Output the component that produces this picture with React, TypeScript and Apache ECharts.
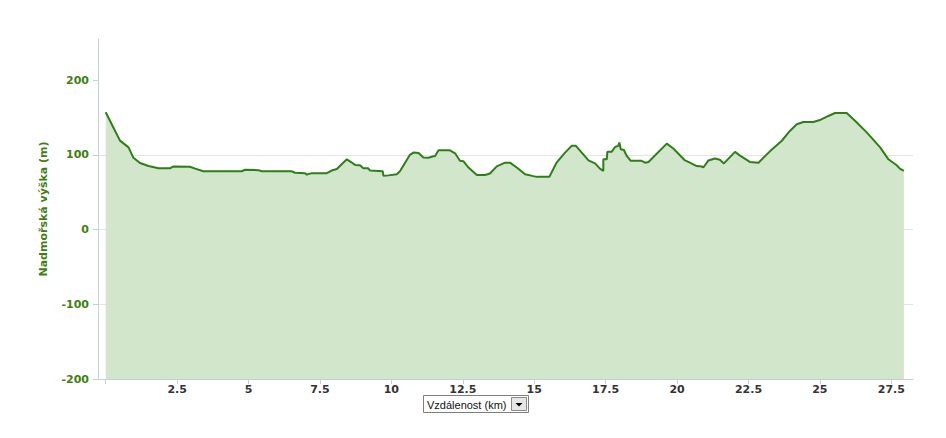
import React, { useEffect, useRef } from "react";
import * as echarts from "echarts";

const distanceKm = [
  0, 0.25, 0.5, 0.8, 0.97, 1.2, 1.5, 1.85, 2.25, 2.37, 2.95, 3.13, 3.42, 4.76, 4.88, 5.35, 5.46, 6.5, 6.63, 6.98,
  7.04, 7.21, 7.74, 7.91, 8.09, 8.44, 8.6, 8.73, 8.9, 9.02, 9.19, 9.25, 9.7, 9.72, 9.9, 10.19, 10.3, 10.65, 10.77,
  10.95, 11.12, 11.3, 11.47, 11.53, 11.65, 12.05, 12.23, 12.4, 12.52, 12.7, 12.99, 13.28, 13.45, 13.69, 13.98,
  14.15, 14.39, 14.68, 14.97, 15.09, 15.53, 15.79, 16.08, 16.31, 16.46, 16.9, 17.13, 17.3, 17.42, 17.42, 17.54,
  17.56, 17.71, 17.83, 17.94, 17.98, 18.03, 18.14, 18.24, 18.38, 18.76, 18.88, 19.0, 19.64, 19.87, 20.28, 20.45,
  20.69, 20.86, 20.92, 21.1, 21.33, 21.5, 21.64, 22.03, 22.26, 22.55, 22.85, 23.26, 23.66, 23.95, 24.19, 24.42,
  24.77, 25.0, 25.3, 25.53, 25.94, 26.23, 26.64, 27.11, 27.4, 27.69, 27.8, 27.94,
];

const elevationM = [
  157, 138, 119, 110, 96, 89, 85, 82, 82, 84.5, 84, 81.5, 78, 78, 80, 79.5, 78, 78, 76, 75.5,
  73.5, 75.5, 75.5, 79, 81, 94, 90, 86.5, 86, 82, 82, 79, 78, 72, 72.5, 74, 78, 100, 103,
  102.5, 96.5, 96, 98, 98.5, 106, 106, 102, 92, 91.5, 83, 73, 73, 75, 84.5, 89.5,
  89.5, 83, 74, 71.5, 70.5, 70.5, 90, 103, 112, 112, 92.5, 88.5, 81.5, 78.5, 94, 94,
  104, 104, 110.5, 112, 116.5, 107.5, 106.5, 98.5, 92, 92, 89.5, 90.5, 115, 108.5, 92.5, 89.5,
  85, 84.5, 83, 92.5, 95, 93.5, 88.5, 104, 97.5, 90.5, 89.5, 105, 118.5, 132, 141, 144,
  144, 146.5, 152, 156, 156, 145.5, 130, 110, 94, 86, 81.5, 78.5,
];

const xTickValues = [0, 2.5, 5, 7.5, 10, 12.5, 15, 17.5, 20, 22.5, 25, 27.5];
const xLabelValues = [2.5, 5, 7.5, 10, 12.5, 15, 17.5, 20, 22.5, 25, 27.5];
const yTickValues = [-200, -100, 0, 100, 200];

const yAxisTitle = "Nadmořská výška (m)";
const xSelectorText = "Vzdálenost (km)";

const GREEN = "#2e7f17";
const AXIS = "#c0d0e0";

export default function App() {
  const ref = useRef<HTMLDivElement>(null);

  useEffect(() => {
    document.body.style.margin = "0";
    const chart = echarts.init(ref.current!, undefined, { renderer: "svg" });
    const data = distanceKm.map((d, i) => [d, elevationM[i]]);
    chart.setOption({
      animation: false,
      backgroundColor: "#ffffff",
      grid: { left: 98, right: 33, top: 39, bottom: 59, containLabel: false },
      xAxis: {
        type: "value",
        min: -0.27,
        max: 28.26,
        axisLine: { show: true, onZero: false, lineStyle: { color: AXIS, width: 1 } },
        axisTick: { show: true, length: 5, lineStyle: { color: AXIS }, customValues: xTickValues },
        axisLabel: {
          customValues: xLabelValues,
          margin: 5,
          color: "#333333",
          fontFamily: "DejaVu Sans",
          fontWeight: "bold",
          fontSize: 11,
        },
        splitLine: { show: false },
      },
      yAxis: {
        type: "value",
        min: -200,
        max: 255,
        interval: 100,
        name: yAxisTitle,
        nameLocation: "middle",
        nameGap: 49,
        nameRotate: 90,
        nameTextStyle: {
          color: "#3f7f12",
          fontFamily: "DejaVu Sans",
          fontWeight: "bold",
          fontSize: 11,
        },
        axisLine: { show: true, onZero: false, lineStyle: { color: AXIS, width: 1 } },
        axisTick: { show: true, length: 5, lineStyle: { color: AXIS }, customValues: yTickValues },
        axisLabel: {
          customValues: yTickValues,
          margin: 9,
          color: "#3f7f12",
          fontFamily: "DejaVu Sans",
          fontWeight: "bold",
          fontSize: 11,
        },
        splitLine: {
          show: true,
          showMinLine: false,
          showMaxLine: false,
          lineStyle: { color: "#e4e4e4", width: 1 },
        },
      },
      series: [
        {
          type: "line",
          data,
          showSymbol: false,
          symbol: "none",
          lineStyle: { color: GREEN, width: 2 },
          itemStyle: { color: GREEN },
          areaStyle: { color: "#d2e6cc", opacity: 1, origin: "start" },
        },
      ],
      graphic: [
        {
          type: "group",
          left: 423,
          top: 395,
          children: [
            {
              type: "rect",
              shape: { x: 0.5, y: 0.5, width: 105, height: 17 },
              style: { fill: "#ffffff", stroke: "#7f7f7f", lineWidth: 1 },
            },
            {
              type: "text",
              x: 4,
              y: 9.5,
              style: {
                text: xSelectorText,
                fill: "#111111",
                font: "11px 'Liberation Sans', Arial, sans-serif",
                verticalAlign: "middle",
              },
            },
            {
              type: "rect",
              shape: { x: 88.5, y: 2.5, width: 15, height: 13 },
              style: { fill: "#e6e6e6", stroke: "#8a8a8a", lineWidth: 1 },
            },
            {
              type: "polygon",
              shape: { points: [[92.5, 8], [99.5, 8], [96, 11.5]] },
              style: { fill: "#000000" },
            },
          ],
        },
      ],
    });
    return () => chart.dispose();
  }, []);

  return <div ref={ref} style={{ width: 946, height: 438 }} />;
}
